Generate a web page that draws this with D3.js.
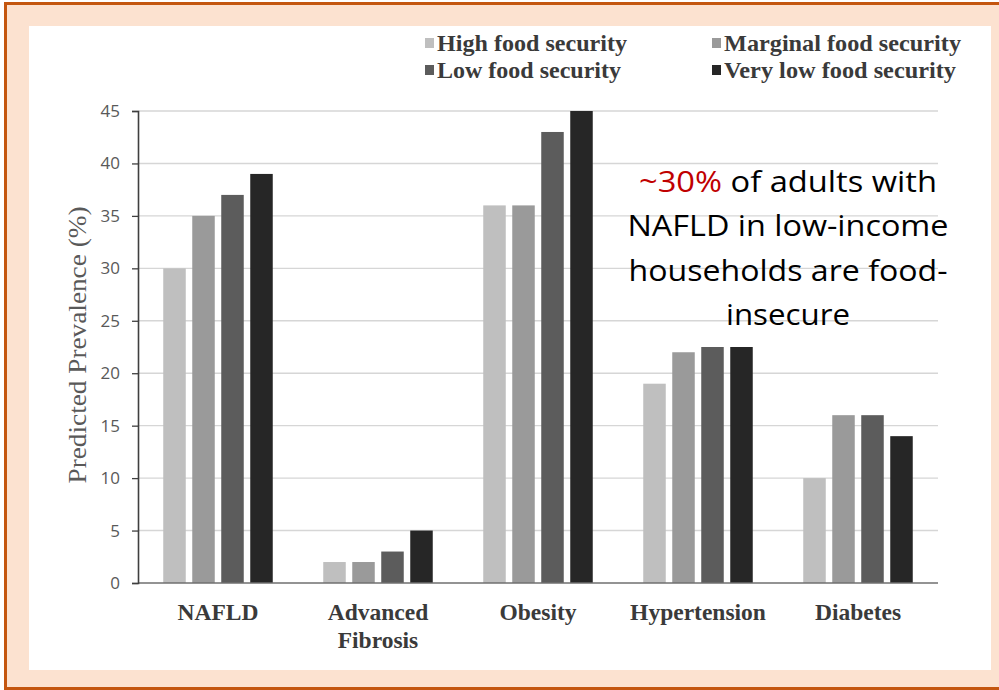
<!DOCTYPE html>
<html>
<head>
<meta charset="utf-8">
<script src="https://cdn.jsdelivr.net/npm/d3@7/dist/d3.min.js"></script>
<style>
  html, body { margin: 0; padding: 0; background: #ffffff; }
  svg { display: block; }
</style>
</head>
<body>
<svg id="chart" width="999" height="690"></svg>
<script>
// Outcome groups along the x axis
const categories = ["NAFLD", "Advanced Fibrosis", "Obesity", "Hypertension", "Diabetes"];
// Food security levels (one bar per level inside each group)
const seriesNames = ["High food security", "Marginal food security", "Low food security", "Very low food security"];
// Predicted prevalence (%) per outcome, in the order of seriesNames
const highValues     = [30, 2, 36, 19, 10];
const marginalValues = [35, 2, 36, 22, 16];
const lowValues      = [37, 3, 43, 22.5, 16];
const veryLowValues  = [39, 5, 45, 22.5, 14];
const yTicks = [0, 5, 10, 15, 20, 25, 30, 35, 40, 45];
const yTitle = "Predicted Prevalence (%)";
const noteLines = [
  [{ t: "~30%", red: true }, { t: " of adults with", red: false }],
  [{ t: "NAFLD in low-income", red: false }],
  [{ t: "households are food-", red: false }],
  [{ t: "insecure", red: false }]
];

const seriesValues = [highValues, marginalValues, lowValues, veryLowValues];
const barColors = ["#bfbfbf", "#9a9a9a", "#5c5c5c", "#262626"];

const svg = d3.select("#chart");

// Slide-style frame: peach panel with an orange rule, white card inside
svg.append("rect").attr("x", 0).attr("y", 0).attr("width", 999).attr("height", 690).attr("fill", "#ffffff");
svg.append("rect")
  .attr("x", 5.5).attr("y", 3.5).attr("width", 1020).attr("height", 685)
  .attr("fill", "#fce2d0").attr("stroke", "#c4560f").attr("stroke-width", 3);
svg.append("rect")
  .attr("x", 29).attr("y", 26).attr("width", 962).attr("height", 644)
  .attr("fill", "#ffffff");

const plot = { left: 138, right: 938, top: 111, bottom: 583 };

const x0 = d3.scaleBand().domain(categories).range([plot.left, plot.right]).padding(0);
const x1 = d3.scaleBand().domain(seriesNames)
  .range([25.25, x0.bandwidth() - 25.25]).paddingInner(0.224).paddingOuter(0);
const y = d3.scaleLinear().domain([0, 45]).range([plot.bottom, plot.top]);

// Horizontal gridlines
svg.append("g").selectAll("line").data(yTicks.filter(d => d > 0)).join("line")
  .attr("x1", plot.left).attr("x2", plot.right)
  .attr("y1", d => y(d)).attr("y2", d => y(d))
  .attr("stroke", "#d6d6d6").attr("stroke-width", 1.4);

// Bars
const rows = categories.map((c, i) => ({ cat: c, vals: seriesValues.map((s, k) => ({ key: seriesNames[k], k, v: s[i] })) }));
svg.append("g").selectAll("g").data(rows).join("g")
  .attr("transform", d => `translate(${x0(d.cat)},0)`)
  .selectAll("rect").data(d => d.vals).join("rect")
  .attr("x", d => x1(d.key))
  .attr("width", x1.bandwidth())
  .attr("y", d => y(d.v))
  .attr("height", d => y(0) - y(d.v))
  .attr("fill", d => barColors[d.k]);

// Baseline
svg.append("line")
  .attr("x1", plot.left).attr("x2", plot.right)
  .attr("y1", y(0)).attr("y2", y(0))
  .attr("stroke", "#6f6f6f").attr("stroke-width", 1.6);

// Y axis
const yAxis = d3.axisLeft(y).tickValues(yTicks).tickSize(6).tickPadding(12);
const yg = svg.append("g").attr("transform", `translate(${plot.left},0)`).call(yAxis);
yg.select(".domain").attr("stroke", "#3f3f3f").attr("stroke-width", 1.6);
yg.selectAll(".tick line").attr("stroke", "#3f3f3f").attr("stroke-width", 1.3);
yg.selectAll(".tick text")
  .attr("fill", "#595959")
  .style("font-family", "'Open Sans', sans-serif")
  .style("font-size", "17px");

// Y axis title
svg.append("text")
  .attr("transform", `translate(86,${(plot.top + plot.bottom) / 2 - 2}) rotate(-90)`)
  .attr("text-anchor", "middle")
  .attr("fill", "#595959")
  .style("font-family", "'Liberation Serif', 'Times New Roman', serif")
  .style("font-size", "26px")
  .attr("textLength", 277).attr("lengthAdjust", "spacingAndGlyphs")
  .text(yTitle);

// Category labels (wrapped onto two lines where needed)
const xl = svg.append("g");
categories.forEach(c => {
  const words = c.split(" ");
  const t = xl.append("text")
    .attr("x", x0(c) + x0.bandwidth() / 2)
    .attr("y", 620)
    .attr("text-anchor", "middle")
    .attr("fill", "#3a3a3a")
    .style("font-family", "'Liberation Serif', 'Times New Roman', serif")
    .style("font-weight", "bold")
    .style("font-size", "23.5px");
  words.forEach((w, i) => {
    t.append("tspan").attr("x", x0(c) + x0.bandwidth() / 2).attr("dy", i === 0 ? 0 : 28).text(w);
  });
});

// Legend, two columns by two rows
const legendPos = [
  { x: 425, y: 51, w: 190 }, { x: 712, y: 51, w: 237 },
  { x: 425, y: 78, w: 184 }, { x: 712, y: 78, w: 232 }
];
const lg = svg.append("g");
seriesNames.forEach((name, k) => {
  const p = legendPos[k];
  lg.append("rect").attr("x", p.x).attr("y", p.y - 13).attr("width", 9).attr("height", 10).attr("fill", barColors[k]);
  lg.append("text")
    .attr("x", p.x + 12).attr("y", p.y)
    .attr("fill", "#3a3a3a")
    .style("font-family", "'Liberation Serif', 'Times New Roman', serif")
    .style("font-weight", "bold")
    .style("font-size", "23px")
    .attr("textLength", p.w).attr("lengthAdjust", "spacingAndGlyphs")
    .text(name);
});

// Annotation
const noteWidths = [298, 321, 319, 124];
const note = svg.append("g")
  .style("font-family", "'Open Sans', sans-serif")
  .style("font-size", "29px");
noteLines.forEach((line, i) => {
  const l = note.append("text")
    .attr("text-anchor", "middle")
    .attr("x", 788).attr("y", 192 + i * 44.3)
    .attr("fill", "#000000")
    .attr("textLength", noteWidths[i]).attr("lengthAdjust", "spacingAndGlyphs");
  line.forEach(part => {
    l.append("tspan").attr("fill", part.red ? "#c00000" : "#000000").text(part.t);
  });
});
</script>
</body>
</html>
